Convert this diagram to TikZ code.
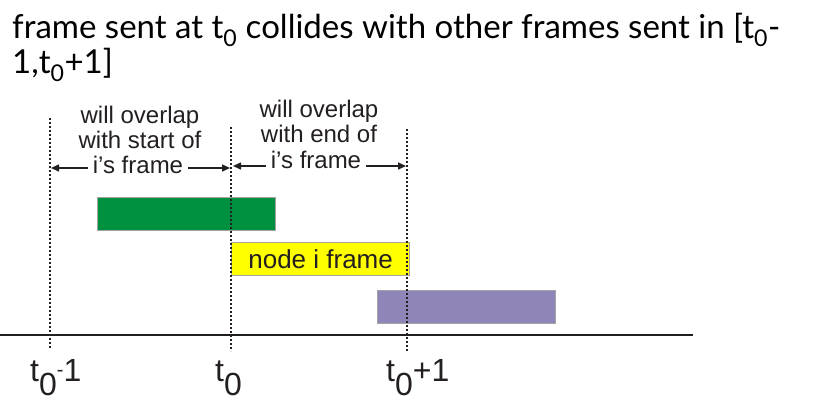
\documentclass[tikz,border=0pt]{standalone}
\usepackage{fontspec}
\setmainfont{Liberation Sans}
\newfontfamily\titlefont{Lato}
\usetikzlibrary{arrows.meta,positioning}
\definecolor{Ink}{HTML}{231F20}
\definecolor{EdgeGray}{HTML}{A3A3A3}
\definecolor{FrameGreen}{HTML}{009140}
\definecolor{FrameYellow}{HTML}{FFFF00}
\definecolor{FramePurple}{HTML}{9085B8}

\begin{document}
\begin{tikzpicture}[x=1pt, y=-1pt,
    framebox/.style={draw=EdgeGray, line width=1.2pt, minimum width=178pt, minimum height=33pt, inner sep=0pt, anchor=north west},
    tickline/.style={Ink, line width=1.8pt, dash pattern=on 1.8pt off 2.2pt},
    note/.style={align=center, inner sep=0pt, text=Ink, font=\fontsize{24}{25}\selectfont},
    span/.style={Ink, line width=1.5pt, -{Triangle[length=8pt, width=7pt]}},
    ticklabel/.style={inner sep=0pt, anchor=base west, text=Ink, font=\fontsize{32}{34}\selectfont}]
  \useasboundingbox (0,0) rectangle (831,413);

  % title
  \node[anchor=base west, align=left, inner sep=0pt, font=\titlefont\fontsize{33}{31}\selectfont] (title) at (12,73)
    {frame sent at t\textsubscript{0} collides with other frames sent in [t\textsubscript{0}-\\1,t\textsubscript{0}+1]};

  % time axis and ticks
  \coordinate (axL) at (0,335);
  \coordinate (axR) at (693,335);
  \draw[Ink, line width=2.6pt] (axL) -- (axR);
  \coordinate (tAtop) at (50,118);  \coordinate (tAbot) at (50,348);
  \coordinate (tBtop) at (231,127); \coordinate (tBbot) at (231,351);
  \coordinate (tCtop) at (407,129); \coordinate (tCbot) at (407,352);

  % frames
  \node[framebox, fill=FrameGreen] (G) at (97,197) {};
  \node[framebox, fill=FrameYellow, text=Ink, font=\fontsize{26}{28}\selectfont] (Y) at (231,242) {node i frame};
  \node[framebox, fill=FramePurple] (P) at (377,290) {};

  \draw[tickline] (tAtop) -- (tAbot);
  \draw[tickline] (tBtop) -- (tBbot);
  \draw[tickline] (tCtop) -- (tCbot);

  % vulnerable intervals
  \node[note, anchor=base] (noteA) at (140,148) {will overlap\\[0pt]with start of};
  \node[note, anchor=base] (spanA) at (138,173) {i's frame};
  \coordinate (spanAl) at (51,168);
  \coordinate (spanAr) at (230,168);
  \draw[span] ([xshift=-5pt]spanA.west |- spanAl) -- (spanAl);
  \draw[span] ([xshift=5pt]spanA.east |- spanAr) -- (spanAr);

  \node[note, anchor=base] (noteB) at (319,142) {will overlap\\[0pt]with end of};
  \node[note, anchor=base] (spanB) at (316,168) {i's frame};
  \coordinate (spanBl) at (233,166);
  \coordinate (spanBr) at (406,166);
  \draw[span] ([xshift=-5pt]spanB.west |- spanBl) -- (spanBl);
  \draw[span] ([xshift=5pt]spanB.east |- spanBr) -- (spanBr);

  % tick labels
  \node[ticklabel] (lblA) at (30,381) {t\raisebox{-0.45em}{0}\raisebox{0.15em}{\fontsize{20}{20}\selectfont -}1};
  \node[ticklabel] (lblB) at (215,381) {t\raisebox{-0.45em}{0}};
  \node[ticklabel] (lblC) at (386,381) {t\raisebox{-0.45em}{0}+1};
\end{tikzpicture}
\end{document}
